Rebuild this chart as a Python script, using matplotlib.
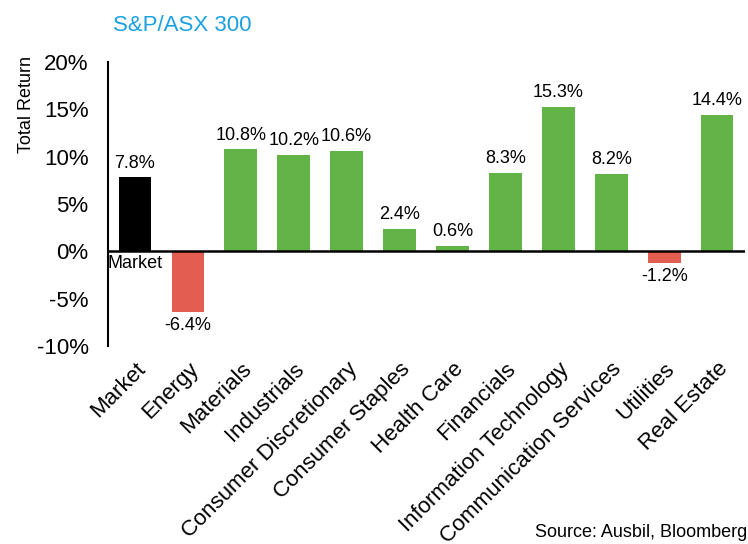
import matplotlib.pyplot as plt

plt.rcParams['font.family'] = ['Liberation Sans', 'DejaVu Sans']

# Data
sectors = ['Market', 'Energy', 'Materials', 'Industrials', 'Consumer Discretionary',
           'Consumer Staples', 'Health Care', 'Financials', 'Information Technology',
           'Communication Services', 'Utilities', 'Real Estate']
returns = [7.8, -6.4, 10.8, 10.2, 10.6, 2.4, 0.6, 8.3, 15.3, 8.2, -1.2, 14.4]
yticks = [-10, -5, 0, 5, 10, 15, 20]

green = '#63b446'
red = '#e35d50'
colors = ['black' if s == 'Market' else (green if v >= 0 else red)
          for s, v in zip(sectors, returns)]

fig = plt.figure(figsize=(7.48, 5.44), dpi=100)
ax = fig.add_axes([0.1444, 0.364, 0.851, 0.522])

x = list(range(len(sectors)))
ax.bar(x, returns, width=0.62, color=colors, edgecolor='none', zorder=2)

# value labels
for xi, v, s in zip(x, returns, sectors):
    if v >= 0:
        ax.annotate(f'{v:.1f}%', (xi, v), xytext=(0, 4), textcoords='offset points',
                    ha='center', va='bottom', fontsize=13)
    else:
        ax.annotate(f'{v:.1f}%', (xi, v), xytext=(0, -4), textcoords='offset points',
                    ha='center', va='top', fontsize=13)

ax.text(-0.52, -0.4, 'Market', ha='left', va='top', fontsize=13)

ax.axhline(0, color='black', lw=1.8, zorder=3)
ax.set_xlim(-0.51, 11.52)
ax.set_ylim(-10, 20)
ax.set_yticks(yticks)
ax.set_yticklabels([f'{t}%' for t in yticks], fontsize=16)
ax.set_xticks(x)
ax.set_xticklabels(sectors, rotation=45, ha='right', rotation_mode='anchor', fontsize=16)
ax.tick_params(axis='both', length=0)
ax.tick_params(axis='x', pad=9)
ax.tick_params(axis='y', pad=14)
for sp in ['top', 'right', 'bottom']:
    ax.spines[sp].set_visible(False)
ax.spines['left'].set_linewidth(1.5)

ax.set_ylabel('Total Return', fontsize=13)
ax.yaxis.set_label_coords(-0.115, 0.85)

fig.text(0.151, 0.953, 'S&P/ASX 300', color='#1ba1e2', fontsize=16, ha='left', va='center')
fig.text(0.999, 0.022, 'Source: Ausbil, Bloomberg', fontsize=13, ha='right', va='center')

fig.savefig('out.png', dpi=100)
